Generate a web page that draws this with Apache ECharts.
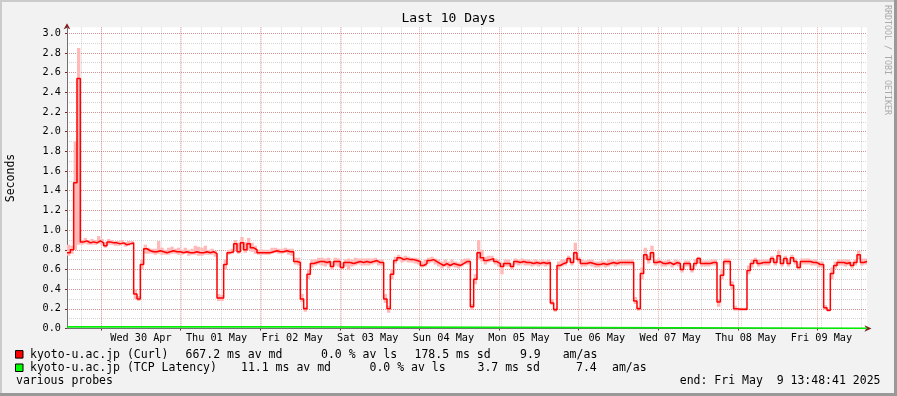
<!DOCTYPE html>
<html>
<head>
<meta charset="utf-8">
<script src="https://cdn.jsdelivr.net/npm/echarts@6/dist/echarts.min.js"></script>
<style>html,body{margin:0;padding:0;background:#f2f2f2;}#c{width:897px;height:396px;}</style>
</head>
<body>
<div id="c"></div>
<script>
// ---- data (hours counted from Tue 29 Apr 2025 00:00) ----
const START_HOUR = 13 + 48 / 60 + 41 / 3600;   // Tue 29 Apr 13:48:41
const END_HOUR = START_HOUR + 240;             // Fri 09 May 13:48:41
const dayLabels = ['Wed 30 Apr', 'Thu 01 May', 'Fri 02 May', 'Sat 03 May', 'Sun 04 May',
                   'Mon 05 May', 'Tue 06 May', 'Wed 07 May', 'Thu 08 May', 'Fri 09 May'];

// hourly median of Curl probe (seconds)
const curlMedian = [
  0.77,0.80,1.48,2.54,0.88,0.89,0.87,0.88,0.87,0.89,
  0.87,0.84,0.88,0.87,0.87,0.86,0.87,0.85,0.86,0.87,
  0.35,0.30,0.65,0.81,0.79,0.78,0.78,0.79,0.78,0.77,
  0.78,0.79,0.78,0.78,0.77,0.78,0.77,0.77,0.78,0.77,
  0.77,0.78,0.77,0.78,0.76,0.31,0.31,0.65,0.77,0.78,
  0.86,0.78,0.87,0.80,0.86,0.82,0.80,0.77,0.77,0.77,
  0.77,0.78,0.79,0.78,0.78,0.79,0.78,0.78,0.68,0.67,
  0.30,0.20,0.55,0.66,0.67,0.68,0.68,0.67,0.68,0.63,
  0.68,0.68,0.62,0.67,0.67,0.66,0.67,0.68,0.67,0.68,
  0.67,0.68,0.69,0.67,0.67,0.30,0.20,0.55,0.69,0.72,
  0.70,0.71,0.70,0.70,0.69,0.68,0.64,0.66,0.69,0.70,
  0.68,0.66,0.64,0.66,0.64,0.66,0.65,0.64,0.66,0.68,
  0.68,0.22,0.50,0.77,0.72,0.69,0.70,0.71,0.68,0.66,
  0.63,0.66,0.66,0.63,0.68,0.67,0.68,0.67,0.67,0.66,
  0.67,0.66,0.67,0.66,0.67,0.26,0.19,0.64,0.66,0.67,
  0.71,0.67,0.77,0.70,0.66,0.66,0.67,0.66,0.65,0.65,
  0.66,0.65,0.66,0.67,0.66,0.67,0.67,0.67,0.67,0.67,
  0.28,0.20,0.56,0.75,0.70,0.77,0.67,0.68,0.66,0.66,
  0.67,0.65,0.67,0.66,0.60,0.66,0.66,0.60,0.66,0.71,
  0.66,0.66,0.66,0.67,0.67,0.27,0.54,0.68,0.68,0.44,
  0.20,0.195,0.195,0.195,0.59,0.66,0.69,0.66,0.67,0.67,
  0.67,0.71,0.67,0.74,0.66,0.71,0.66,0.72,0.68,0.62,
  0.68,0.68,0.68,0.67,0.67,0.65,0.65,0.21,0.185,0.56,
  0.64,0.67,0.67,0.66,0.67,0.64,0.67,0.75,0.67,0.68
];
// hourly max of probe pings (smoke top)
const curlHi = [
  0.85,0.84,1.90,2.85,0.90,0.92,0.90,0.91,0.90,0.94,
  0.91,0.88,0.91,0.90,0.89,0.89,0.90,0.88,0.89,0.89,
  0.40,0.33,0.70,0.85,0.82,0.81,0.81,0.89,0.82,0.80,
  0.82,0.83,0.81,0.82,0.80,0.82,0.80,0.81,0.84,0.83,
  0.82,0.84,0.80,0.81,0.79,0.35,0.34,0.70,0.80,0.81,
  0.90,0.87,0.93,0.88,0.92,0.87,0.84,0.80,0.80,0.80,
  0.80,0.82,0.82,0.81,0.81,0.82,0.81,0.81,0.72,0.72,
  0.35,0.22,0.60,0.70,0.70,0.72,0.72,0.71,0.72,0.68,
  0.72,0.71,0.67,0.70,0.71,0.70,0.72,0.71,0.71,0.71,
  0.71,0.71,0.72,0.70,0.70,0.35,0.23,0.60,0.73,0.75,
  0.73,0.74,0.73,0.72,0.72,0.71,0.68,0.70,0.72,0.73,
  0.71,0.70,0.68,0.70,0.68,0.70,0.68,0.67,0.70,0.71,
  0.71,0.25,0.55,0.90,0.80,0.73,0.74,0.74,0.71,0.70,
  0.67,0.70,0.70,0.66,0.71,0.70,0.71,0.70,0.70,0.69,
  0.70,0.69,0.70,0.69,0.70,0.30,0.21,0.68,0.70,0.70,
  0.74,0.70,0.87,0.73,0.70,0.69,0.70,0.70,0.68,0.68,
  0.69,0.68,0.70,0.70,0.69,0.70,0.70,0.70,0.70,0.70,
  0.32,0.22,0.62,0.82,0.74,0.84,0.70,0.71,0.69,0.69,
  0.70,0.68,0.70,0.69,0.64,0.69,0.69,0.64,0.70,0.73,
  0.69,0.69,0.69,0.70,0.70,0.30,0.60,0.71,0.71,0.48,
  0.23,0.21,0.21,0.21,0.64,0.70,0.72,0.70,0.70,0.70,
  0.70,0.74,0.70,0.80,0.70,0.74,0.70,0.75,0.71,0.66,
  0.71,0.71,0.71,0.70,0.70,0.68,0.68,0.24,0.20,0.62,
  0.68,0.70,0.70,0.70,0.70,0.68,0.70,0.79,0.71,0.71
];
// hourly min of probe pings (smoke bottom)
const curlLo = [
  0.74,0.76,0.80,0.85,0.85,0.86,0.85,0.85,0.85,0.86,
  0.85,0.82,0.85,0.85,0.84,0.84,0.85,0.83,0.84,0.85,
  0.30,0.28,0.60,0.76,0.76,0.76,0.75,0.76,0.75,0.75,
  0.75,0.76,0.76,0.75,0.75,0.76,0.74,0.75,0.75,0.74,
  0.74,0.75,0.75,0.75,0.73,0.28,0.28,0.60,0.75,0.76,
  0.80,0.76,0.80,0.77,0.80,0.78,0.76,0.75,0.75,0.75,
  0.75,0.76,0.77,0.76,0.76,0.77,0.75,0.74,0.65,0.64,
  0.27,0.17,0.50,0.62,0.64,0.65,0.64,0.63,0.65,0.60,
  0.64,0.63,0.60,0.63,0.60,0.63,0.64,0.65,0.64,0.64,
  0.64,0.65,0.66,0.64,0.64,0.26,0.16,0.50,0.66,0.69,
  0.67,0.68,0.67,0.67,0.66,0.65,0.62,0.63,0.66,0.67,
  0.65,0.63,0.61,0.63,0.61,0.63,0.62,0.61,0.63,0.65,
  0.65,0.19,0.45,0.70,0.68,0.65,0.67,0.68,0.65,0.63,
  0.55,0.63,0.63,0.60,0.65,0.64,0.65,0.64,0.64,0.63,
  0.64,0.63,0.64,0.63,0.64,0.24,0.17,0.60,0.63,0.64,
  0.68,0.64,0.70,0.67,0.63,0.63,0.64,0.63,0.62,0.62,
  0.63,0.62,0.63,0.64,0.63,0.64,0.64,0.64,0.64,0.64,
  0.25,0.18,0.50,0.70,0.66,0.72,0.64,0.65,0.63,0.63,
  0.64,0.62,0.64,0.63,0.57,0.63,0.63,0.57,0.63,0.66,
  0.63,0.63,0.63,0.64,0.64,0.22,0.50,0.65,0.65,0.40,
  0.18,0.18,0.18,0.18,0.55,0.62,0.66,0.63,0.64,0.64,
  0.64,0.68,0.64,0.70,0.63,0.68,0.63,0.69,0.65,0.60,
  0.65,0.65,0.65,0.64,0.64,0.62,0.62,0.19,0.17,0.50,
  0.61,0.64,0.64,0.63,0.64,0.61,0.64,0.70,0.64,0.65
];
// TCP latency: change points (hours after start) and values (seconds)
const tcpHours = [0, 68.2, 240];
const tcpValues = [0.017, 0.003, 0.003];

// legend rows
const legendRows = [
  { color: '#ff0000', texts: [['kyoto-u.ac.jp (Curl)', 30], ['667.2 ms av md', 185.5], ['0.0 % av ls', 321],
                              ['178.5 ms sd', 414.5], ['9.9', 520], ['am/as', 562.7]] },
  { color: '#00ff00', texts: [['kyoto-u.ac.jp (TCP Latency)', 30], ['11.1 ms av md', 241], ['0.0 % av ls', 369.5],
                              ['3.7 ms sd', 477.5], ['7.4', 576], ['am/as', 612]] }
];

// ---- build ----
const MONO = 'DejaVu Sans Mono';
const medianData = curlMedian.map((v, i) => [START_HOUR + i, v]);
medianData.push([END_HOUR, curlMedian[curlMedian.length - 1]]);
const smokeData = curlMedian.map((v, i) => [START_HOUR + i, curlLo[i], curlHi[i]]);
const tcpData = tcpHours.map((h, i) => [START_HOUR + h, tcpValues[i]]);

const PX_PER_H = 800 / 240;
const GL = 67, GT = 27.3, GH = 301.2;
const leftFor = h => GL + (h - START_HOUR) * PX_PER_H;

const majorColor = 'rgba(215,60,60,0.42)';
const minorColor = 'rgba(120,120,120,0.32)';
const dots = [1, 1];

const graphics = [
  { type: 'rect', shape: { x: 0, y: 0, width: 897, height: 2 }, style: { fill: '#cbcbcb' }, z: 10 },
  { type: 'rect', shape: { x: 0, y: 0, width: 2, height: 396 }, style: { fill: '#cbcbcb' }, z: 10 },
  { type: 'rect', shape: { x: 0, y: 393, width: 897, height: 3 }, style: { fill: '#999999' }, z: 11 },
  { type: 'rect', shape: { x: 894, y: 0, width: 3, height: 396 }, style: { fill: '#999999' }, z: 11 },
  { type: 'text', x: 11, y: 178, rotation: Math.PI / 2,
    style: { text: 'Seconds', font: '11.5px "' + MONO + '"', fill: '#000', align: 'center', verticalAlign: 'middle' } },
  { type: 'text', x: 887, y: 60, rotation: -Math.PI / 2,
    style: { text: 'RRDTOOL / TOBI OETIKER', font: '8.3px "' + MONO + '"', fill: '#aaaaaa', align: 'center', verticalAlign: 'middle' } },
  { type: 'text', x: 16, y: 381.5,
    style: { text: 'various probes', font: '11.5px "' + MONO + '"', fill: '#000', align: 'left', verticalAlign: 'middle' } },
  { type: 'text', x: 880.5, y: 381.5,
    style: { text: 'end: Fri May  9 13:48:41 2025', font: '11.5px "' + MONO + '"', fill: '#000', align: 'right', verticalAlign: 'middle' } }
];
legendRows.forEach((row, r) => {
  const yc = 354.6 + r * 13.4;
  graphics.push({ type: 'rect', shape: { x: 15.5, y: yc - 4, width: 7.5, height: 7.5 },
                  style: { fill: row.color, stroke: '#000', lineWidth: 1 } });
  row.texts.forEach(t => graphics.push({ type: 'text', x: t[1], y: yc,
    style: { text: t[0], font: '11.5px "' + MONO + '"', fill: '#000', align: 'left', verticalAlign: 'middle' } }));
});

const hidden = { show: false };
const chart = echarts.init(document.getElementById('c'), null, { renderer: 'canvas' });
chart.setOption({
  backgroundColor: '#f2f2f2',
  animation: false,
  title: { text: 'Last 10 Days', left: 'center', top: 12.5, padding: 0,
           textStyle: { fontFamily: MONO, fontSize: 13, fontWeight: 'normal', color: '#000' } },
  grid: [
    { left: GL, top: GT, width: 800, height: GH, show: true, backgroundColor: '#ffffff', borderWidth: 0, z: 0 },
    { left: leftFor(18), top: GT, width: 800, height: GH, show: false },
    { left: leftFor(24), top: GT, width: 800, height: GH, show: false },
    { left: leftFor(36), top: GT, width: 800, height: GH, show: false }
  ],
  xAxis: [
    { gridIndex: 0, type: 'value', min: START_HOUR, max: END_HOUR, position: 'bottom', z: 2,
      axisLine: { show: true, onZero: false, symbol: ['none', 'arrow'], symbolSize: [5, 7], symbolOffset: [0, 4.5],
                  lineStyle: { color: '#802020', width: 1 } },
      axisTick: hidden, axisLabel: hidden, splitLine: hidden },
    { gridIndex: 0, type: 'value', min: START_HOUR, max: END_HOUR, position: 'bottom', z: 3,
      axisLine: { show: true, onZero: false, lineStyle: { color: '#707070', width: 1 } },
      axisTick: hidden, axisLabel: hidden, splitLine: hidden },
    { gridIndex: 1, type: 'value', min: 18, max: 258, interval: 6, position: 'bottom', z: 1,
      axisLine: hidden, axisTick: hidden, axisLabel: hidden,
      splitLine: { show: true, showMinLine: true, showMaxLine: false, lineStyle: { color: minorColor, type: dots, width: 1 } } },
    { gridIndex: 2, type: 'value', min: 24, max: 264, interval: 24, position: 'bottom', z: 2,
      axisLine: hidden,
      axisTick: { show: true, length: 2, inside: false, lineStyle: { color: '#802020' } },
      axisLabel: hidden,
      splitLine: { show: true, showMinLine: true, showMaxLine: false, lineStyle: { color: majorColor, type: dots, width: 1 } } },
    { gridIndex: 3, type: 'value', min: 24, max: 264, interval: 24, position: 'bottom', z: 2,
      axisLine: hidden, axisTick: hidden, splitLine: hidden,
      axisLabel: { show: true, margin: 4.5, showMinLabel: true, showMaxLabel: false,
                   fontFamily: MONO, fontSize: 10.2, color: '#000',
                   formatter: v => dayLabels[Math.round(v / 24) - 1] || '' } }
  ],
  yAxis: [
    { gridIndex: 0, type: 'value', min: 0, max: 3.06, interval: 0.2, position: 'left', z: 2,
      axisLine: { show: true, onZero: false, symbol: ['none', 'arrow'], symbolSize: [5, 6], symbolOffset: [0, 4],
                  lineStyle: { color: '#802020', width: 1 } },
      axisTick: { show: true, length: 2, lineStyle: { color: '#802020' } },
      axisLabel: { show: true, margin: 6, showMaxLabel: false, fontFamily: MONO, fontSize: 10.2, color: '#000',
                   formatter: v => v.toFixed(1) },
      splitLine: { show: true, showMinLine: false, showMaxLine: false, lineStyle: { color: majorColor, type: dots, width: 1 } } },
    { gridIndex: 0, type: 'value', min: 0, max: 3.06, interval: 0.1, position: 'left', z: 1,
      axisLine: hidden, axisTick: hidden, axisLabel: hidden,
      splitLine: { show: true, showMinLine: false, showMaxLine: false, lineStyle: { color: minorColor, type: dots, width: 1 } } },
    { gridIndex: 0, type: 'value', min: 0, max: 3.06, position: 'left', z: 3,
      axisLine: { show: true, onZero: false, lineStyle: { color: '#707070', width: 1 } },
      axisTick: hidden, axisLabel: hidden, splitLine: hidden },
    { gridIndex: 1, type: 'value', min: 0, max: 1, show: false },
    { gridIndex: 2, type: 'value', min: 0, max: 1, show: false },
    { gridIndex: 3, type: 'value', min: 0, max: 1, show: false }
  ],
  series: [
    { type: 'custom', name: 'smoke', xAxisIndex: 0, yAxisIndex: 0, z: 4, silent: true, clip: true,
      encode: { x: 0, y: [1, 2] },
      data: smokeData,
      renderItem: (params, api) => {
        const t = api.value(0), lo = api.value(1), hi = api.value(2);
        const p1 = api.coord([t, hi]);
        const p2 = api.coord([t + 1, lo]);
        return { type: 'rect', shape: { x: p1[0], y: p1[1], width: p2[0] - p1[0], height: Math.max(1, p2[1] - p1[1]) },
                 style: { fill: '#ffb9b9' } };
      } },
    { type: 'line', name: 'kyoto-u.ac.jp (Curl)', xAxisIndex: 0, yAxisIndex: 0, z: 5, step: 'end',
      data: medianData, showSymbol: false, symbol: 'none', lineStyle: { color: '#ff0000', width: 1.5 } },
    { type: 'line', name: 'kyoto-u.ac.jp (TCP Latency)', xAxisIndex: 0, yAxisIndex: 0, z: 5, step: 'end',
      data: tcpData, showSymbol: false, symbol: 'none', lineStyle: { color: '#00ee00', width: 1.6 } }
  ],
  graphic: graphics
});
</script>
</body>
</html>
